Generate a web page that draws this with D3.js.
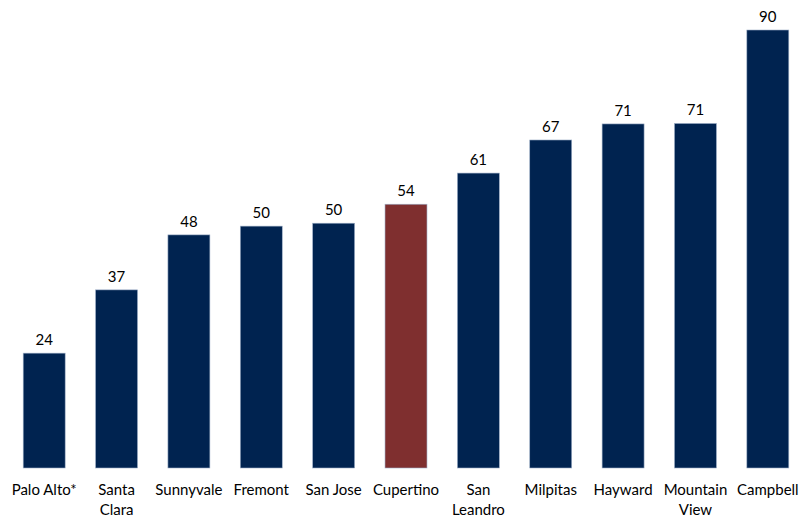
<!DOCTYPE html>
<html><head><meta charset="utf-8">
<script src="https://cdn.jsdelivr.net/npm/d3@7"></script>
<style>body{margin:0;background:#fff}</style>
</head><body>
<script>
const categories = [["Palo Alto*"],["Santa","Clara"],["Sunnyvale"],["Fremont"],["San Jose"],["Cupertino"],["San","Leandro"],["Milpitas"],["Hayward"],["Mountain","View"],["Campbell"]];
const values = [23.6, 36.6, 47.9, 49.7, 50.3, 54.2, 60.6, 67.4, 70.7, 70.8, 90];
const highlight = "Cupertino";

const W = 801, H = 521;
const svg = d3.select("body").append("svg").attr("width", W).attr("height", H);
const names = categories.map(c => c.join(" "));
const x = d3.scaleBand().domain(names).range([8, 804]).paddingInner(0.42).paddingOuter(0.21);
const y = d3.scaleLinear().domain([0, 90]).range([468, 30]);

svg.selectAll("rect.bar").data(values).enter().append("rect")
  .attr("x", (d,i) => x(names[i]))
  .attr("y", d => y(d))
  .attr("width", x.bandwidth())
  .attr("height", d => y(0) - y(d))
  .attr("fill", (d,i) => names[i] === highlight ? "#7f2f2f" : "#002350")
  .attr("stroke", "#9fb0c8").attr("stroke-width", 0.6);

svg.selectAll("text.val").data(values).enter().append("text")
  .attr("x", (d,i) => x(names[i]) + x.bandwidth()/2)
  .attr("y", d => y(d) - 8)
  .attr("text-anchor", "middle")
  .attr("font-family", "Lato, 'Open Sans', sans-serif").attr("font-size", 15).attr("fill", "#000")
  .text(d => d3.format(".0f")(d));

const lab = svg.selectAll("text.cat").data(categories).enter().append("text")
  .attr("text-anchor", "middle")
  .attr("font-family", "Lato, 'Open Sans', sans-serif").attr("font-size", 15).attr("fill", "#000")
  .attr("transform", (d,i) => `translate(${x(names[i]) + x.bandwidth()/2},495)`);
lab.selectAll("tspan").data(d => d).enter().append("tspan")
  .attr("x", 0).attr("dy", (d,j) => j === 0 ? 0 : 20).text(d => d);
</script>
</body></html>
